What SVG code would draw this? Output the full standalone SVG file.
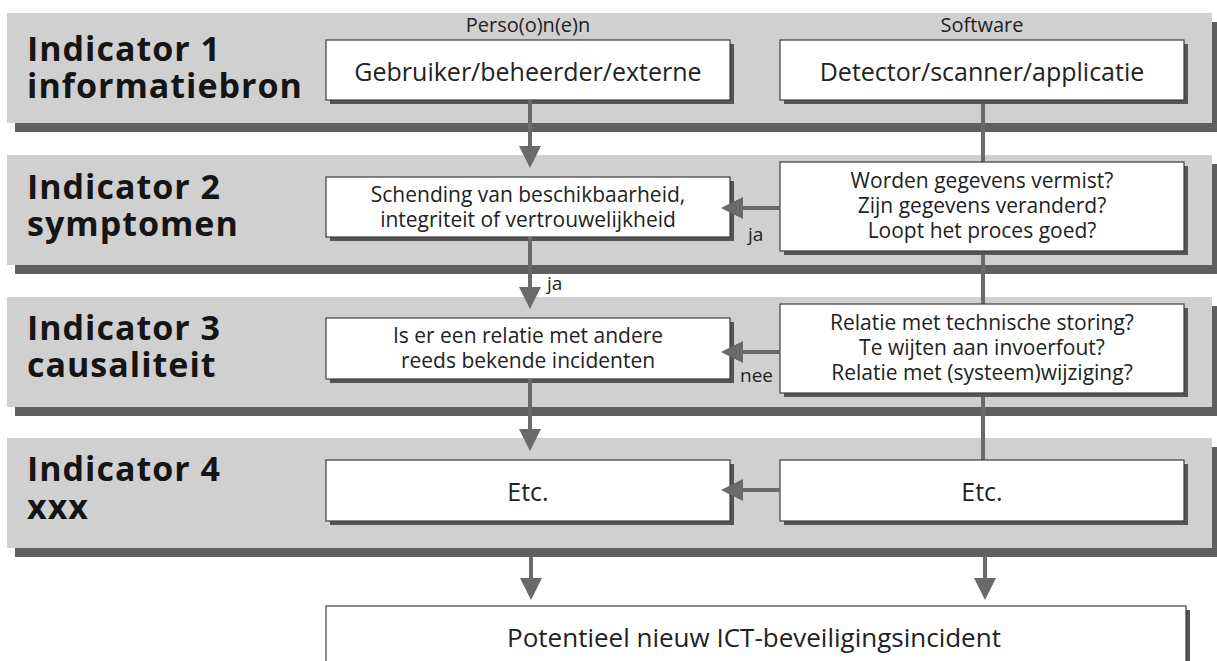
<svg xmlns="http://www.w3.org/2000/svg" width="1217" height="661" viewBox="0 0 1217 661">
  <defs>
    <style>
      .band { fill: #d0d0d0; }
      .band-shadow { fill: #5f5f5f; }
      .box { fill: #ffffff; stroke: #3c3c3c; stroke-width: 1.2; }
      .box-shadow { fill: #555555; }
      .title { font-family: "Open Sans", "Noto Sans", sans-serif; font-weight: bold; font-size: 34px; letter-spacing: 1px; fill: #151515; }
      .head { font-family: "Open Sans", "Noto Sans", sans-serif; font-size: 20px; fill: #222222; text-anchor: middle; }
      .big { font-family: "Open Sans", "Noto Sans", sans-serif; font-size: 25px; fill: #222222; text-anchor: middle; }
      .res { font-family: "Open Sans", "Noto Sans", sans-serif; font-size: 26px; fill: #222222; text-anchor: middle; }
      .mid { font-family: "Open Sans", "Noto Sans", sans-serif; font-size: 21px; fill: #222222; text-anchor: middle; }
      .lbl { font-family: "Open Sans", "Noto Sans", sans-serif; font-size: 19px; fill: #222222; }
      .conn { stroke: #6a6a6a; stroke-width: 4; fill: none; }
    </style>
    <marker id="arrow" viewBox="0 0 22 22" markerWidth="22" markerHeight="22" refX="12" refY="11" orient="auto" markerUnits="userSpaceOnUse">
      <path d="M0,0 L22,11 L0,22 Z" fill="#6a6a6a"/>
    </marker>
  </defs>

  <!-- indicator bands -->
  <g id="band1">
    <rect class="band-shadow" x="15" y="22" width="1205" height="110"/>
    <rect class="band" x="7" y="13" width="1205" height="110"/>
    <text class="title" x="27" y="61"><tspan x="27">Indicator 1</tspan><tspan x="27" dy="37">informatiebron</tspan></text>
    <text class="head" x="528" y="32">Perso(o)n(e)n</text>
    <text class="head" x="982" y="32">Software</text>
  </g>
  <g id="band2">
    <rect class="band-shadow" x="15" y="164" width="1205" height="110"/>
    <rect class="band" x="7" y="155" width="1205" height="110"/>
    <text class="title" x="27" y="199"><tspan x="27">Indicator 2</tspan><tspan x="27" dy="37">symptomen</tspan></text>
  </g>
  <g id="band3">
    <rect class="band-shadow" x="15" y="306" width="1205" height="110"/>
    <rect class="band" x="7" y="297" width="1205" height="110"/>
    <text class="title" x="27" y="340"><tspan x="27">Indicator 3</tspan><tspan x="27" dy="37">causaliteit</tspan></text>
  </g>
  <g id="band4">
    <rect class="band-shadow" x="15" y="447" width="1205" height="110"/>
    <rect class="band" x="7" y="438" width="1205" height="110"/>
    <text class="title" x="27" y="481"><tspan x="27">Indicator 4</tspan><tspan x="27" dy="38">xxx</tspan></text>
  </g>

  <!-- plain links on the software column, drawn under the boxes -->
  <g id="connectors-lines">
    <line class="conn" x1="983" y1="100" x2="983" y2="162"/>
    <line class="conn" x1="983" y1="251" x2="983" y2="304"/>
    <line class="conn" x1="983" y1="393" x2="983" y2="460"/>
  </g>

  <!-- boxes -->
  <g id="persons1">
    <rect class="box-shadow" x="330" y="44" width="404" height="60"/>
    <rect class="box" x="326" y="40" width="404" height="60"/>
    <text class="big" x="528" y="81">Gebruiker/beheerder/externe</text>
  </g>
  <g id="software1">
    <rect class="box-shadow" x="784" y="44" width="404" height="60"/>
    <rect class="box" x="780" y="40" width="404" height="60"/>
    <text class="big" x="982" y="81">Detector/scanner/applicatie</text>
  </g>
  <g id="persons2">
    <rect class="box-shadow" x="330" y="181" width="404" height="60"/>
    <rect class="box" x="326" y="177" width="404" height="60"/>
    <text class="mid" x="528" y="202">Schending van beschikbaarheid,</text>
    <text class="mid" x="528" y="227">integriteit of vertrouwelijkheid</text>
  </g>
  <g id="software2">
    <rect class="box-shadow" x="784" y="166" width="404" height="89"/>
    <rect class="box" x="780" y="162" width="404" height="89"/>
    <text class="mid" x="982" y="188">Worden gegevens vermist?</text>
    <text class="mid" x="982" y="213">Zijn gegevens veranderd?</text>
    <text class="mid" x="982" y="238">Loopt het proces goed?</text>
  </g>
  <g id="persons3">
    <rect class="box-shadow" x="330" y="322" width="404" height="61"/>
    <rect class="box" x="326" y="318" width="404" height="61"/>
    <text class="mid" x="528" y="343">Is er een relatie met andere</text>
    <text class="mid" x="528" y="368">reeds bekende incidenten</text>
  </g>
  <g id="software3">
    <rect class="box-shadow" x="784" y="308" width="404" height="89"/>
    <rect class="box" x="780" y="304" width="404" height="89"/>
    <text class="mid" x="982" y="330">Relatie met technische storing?</text>
    <text class="mid" x="982" y="355">Te wijten aan invoerfout?</text>
    <text class="mid" x="982" y="380">Relatie met (systeem)wijziging?</text>
  </g>
  <g id="persons4">
    <rect class="box-shadow" x="330" y="464" width="404" height="61"/>
    <rect class="box" x="326" y="460" width="404" height="61"/>
    <text class="big" x="528" y="501">Etc.</text>
  </g>
  <g id="software4">
    <rect class="box-shadow" x="784" y="464" width="404" height="61"/>
    <rect class="box" x="780" y="460" width="404" height="61"/>
    <text class="big" x="982" y="501">Etc.</text>
  </g>
  <g id="result">
    <rect class="box-shadow" x="330" y="610" width="860" height="70"/>
    <rect class="box" x="326" y="606" width="860" height="70"/>
    <text class="res" x="754" y="647">Potentieel nieuw ICT-beveiligingsincident</text>
  </g>

  <!-- arrows -->
  <g id="connectors">
    <path class="conn" d="M530,100 V158" marker-end="url(#arrow)"/>
    <path class="conn" d="M530,237 V299" marker-end="url(#arrow)"/>
    <path class="conn" d="M530,379 V441" marker-end="url(#arrow)"/>
    <path class="conn" d="M780,208 H731" marker-end="url(#arrow)"/>
    <path class="conn" d="M780,352 H731" marker-end="url(#arrow)"/>
    <path class="conn" d="M780,490 H731" marker-end="url(#arrow)"/>
    <path class="conn" d="M531,556 V590" marker-end="url(#arrow)"/>
    <path class="conn" d="M985,556 V590" marker-end="url(#arrow)"/>
    <text class="lbl" x="748" y="241">ja</text>
    <text class="lbl" x="547" y="290">ja</text>
    <text class="lbl" x="740" y="382">nee</text>
  </g>
</svg>
